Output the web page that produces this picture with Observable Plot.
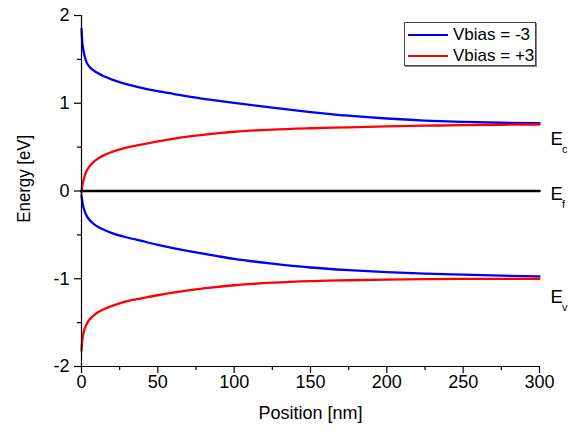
<!DOCTYPE html>
<html>
<head>
<meta charset="utf-8">
<script src="https://cdn.jsdelivr.net/npm/d3@7"></script>
<script src="https://cdn.jsdelivr.net/npm/@observablehq/plot@0.6"></script>
<style>
  html, body { margin: 0; padding: 0; background: #fff; }
  #wrap { position: relative; width: 582px; height: 432px; font-family: Arial, "Liberation Sans", sans-serif; }
  #legend { position: absolute; left: 404px; top: 22px; width: 130px; height: 42px; border: 1px solid #444;
            box-shadow: 1px 1px 0 #888; background: #fff; font-size: 17px; color: #000; }
  .row { position: absolute; left: 3px; height: 20px; display: flex; align-items: center; }
  .sw { width: 40px; height: 2.5px; margin-right: 5px; }
</style>
</head>
<body>
<div id="wrap"></div>
<script>
// Position [nm]
const positions = [0, 0.5, 1, 2, 3, 5, 7, 10, 15, 20, 30, 40, 50, 60, 75, 90, 100, 125, 150, 175, 200, 225, 250, 275, 300];
// Vbias = -3 : conduction band and valence band
const ecNeg = [1.85, 1.70, 1.63, 1.54, 1.48, 1.42, 1.385, 1.35, 1.305, 1.27, 1.215, 1.172, 1.137, 1.107, 1.064, 1.027, 1.004, 0.950, 0.900, 0.858, 0.826, 0.803, 0.788, 0.778, 0.773];
const evNeg = [-0.05, -0.12, -0.165, -0.225, -0.27, -0.325, -0.36, -0.40, -0.445, -0.48, -0.53, -0.572, -0.613, -0.650, -0.700, -0.745, -0.773, -0.828, -0.872, -0.902, -0.924, -0.941, -0.954, -0.965, -0.974];
// Vbias = +3 : conduction band and valence band
const ecPos = [-0.02, 0.06, 0.10, 0.165, 0.215, 0.275, 0.315, 0.36, 0.41, 0.445, 0.497, 0.532, 0.565, 0.595, 0.630, 0.660, 0.675, 0.700, 0.715, 0.726, 0.736, 0.744, 0.750, 0.755, 0.758];
const evPos = [-1.82, -1.70, -1.645, -1.575, -1.53, -1.47, -1.435, -1.39, -1.345, -1.31, -1.256, -1.222, -1.188, -1.158, -1.120, -1.091, -1.074, -1.045, -1.027, -1.017, -1.010, -1.005, -1.002, -1.0005, -1.0];
// Fermi level
const fermiX = [0, 300];
const fermiY = [0, 0];

const seriesNames = ["Vbias = -3", "Vbias = +3"];
const seriesColors = ["#0000ff", "#ff0000"];

// Right-hand band labels
const bandLabels = ["E", "E", "E"];
const bandSubs = ["c", "f", "v"];
const bandLabelY = [0.59, -0.04, -1.21];

const xTicks = [0, 50, 100, 150, 200, 250, 300];
const xMinor = [25, 75, 125, 175, 225, 275];
const yTicks = [-2, -1, 0, 1, 2];
const yMinor = [-1.5, -0.5, 0.5, 1.5];

const xLabel = "Position [nm]";
const yLabel = "Energy [eV]";

const rows = [];
const curves = [
  {s: 0, band: "c", vals: ecNeg},
  {s: 0, band: "v", vals: evNeg},
  {s: 1, band: "c", vals: ecPos},
  {s: 1, band: "v", vals: evPos}
];
for (const c of curves) {
  positions.forEach((x, i) => rows.push({x, y: c.vals[i], series: seriesNames[c.s], key: seriesNames[c.s] + c.band}));
}
const fermi = fermiX.map((x, i) => ({x, y: fermiY[i]}));
const labels = bandLabels.map((t, i) => ({t, sub: bandSubs[i], y: bandLabelY[i]}));

const font = 'Arial, "Liberation Sans", sans-serif';
const fmt = d => String(d);

const chart = Plot.plot({
  width: 582,
  height: 432,
  marginLeft: 81,
  marginRight: 43,
  marginTop: 15,
  marginBottom: 66,
  style: {fontFamily: font, fontSize: "18px", color: "#000", background: "#fff"},
  x: {domain: [0, 300]},
  y: {domain: [-2, 2]},
  color: {domain: seriesNames, range: seriesColors},
  marks: [
    Plot.line(rows, {x: "x", y: "y", z: "key", stroke: "series", strokeWidth: 2.3, curve: "monotone-x"}),
    Plot.line(fermi, {x: "x", y: "y", stroke: "#000", strokeWidth: 2.5}),
    Plot.ruleX([0], {stroke: "#000", strokeWidth: 1.2}),
    Plot.ruleY([-2], {stroke: "#000", strokeWidth: 1.2}),
    Plot.axisX({ticks: xTicks, tickFormat: fmt, tickSize: 7, tickPadding: 2, fontSize: 18, label: null, stroke: "#000", strokeWidth: 1.2}),
    Plot.axisX({ticks: xMinor, tickSize: 4, text: null, label: null, stroke: "#000", strokeWidth: 1.2}),
    Plot.axisY({ticks: yTicks, tickFormat: fmt, tickSize: 7, tickPadding: 5, fontSize: 18, label: null, stroke: "#000", strokeWidth: 1.2}),
    Plot.axisY({ticks: yMinor, tickSize: 4, text: null, label: null, stroke: "#000", strokeWidth: 1.2}),
    Plot.text([xLabel], {frameAnchor: "bottom", dy: 52, fontSize: 18, fill: "#000"}),
    Plot.text([yLabel], {x: () => 0, y: () => 0.14, rotate: -90, dx: -57, fontSize: 18, fill: "#000", clip: false}),
    Plot.text(labels, {x: () => 300, y: "y", text: "t", dx: 11, textAnchor: "start", fontSize: 18.5, fill: "#000", clip: false}),
    Plot.text(labels, {x: () => 300, y: "y", text: "sub", dx: 22.5, dy: 10, textAnchor: "start", fontSize: 11, fill: "#000", clip: false})
  ]
});

// the vertical axis title is slightly more compact in the reference
chart.querySelectorAll("text").forEach(t => {
  if (t.textContent === yLabel) {
    t.setAttribute("textLength", "88");
    t.setAttribute("lengthAdjust", "spacingAndGlyphs");
  }
});

const wrap = document.getElementById("wrap");
wrap.appendChild(chart);

const legend = document.createElement("div");
legend.id = "legend";
seriesNames.forEach((name, i) => {
  const row = document.createElement("div");
  row.className = "row";
  row.style.top = (i === 0 ? 2 : 23) + "px";
  const sw = document.createElement("div");
  sw.className = "sw";
  sw.style.background = seriesColors[i];
  const tx = document.createElement("span");
  tx.textContent = name;
  row.appendChild(sw);
  row.appendChild(tx);
  legend.appendChild(row);
});
wrap.appendChild(legend);
</script>
</body>
</html>
